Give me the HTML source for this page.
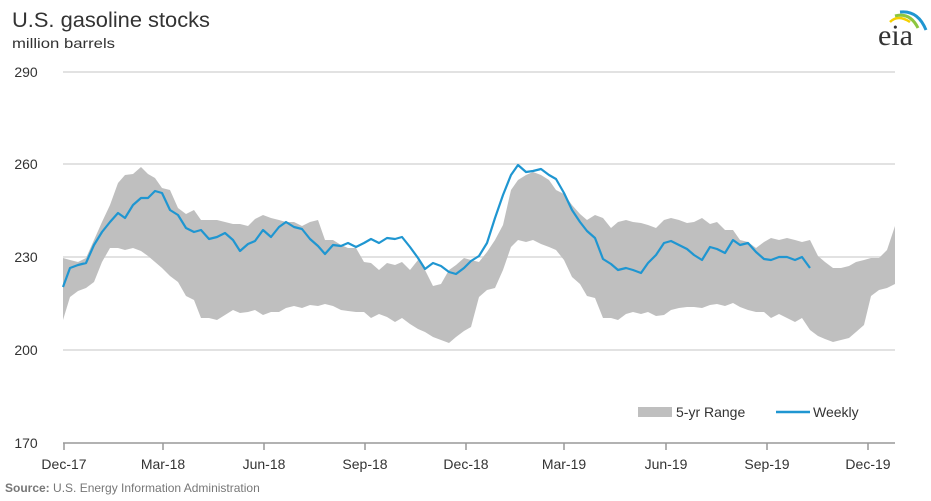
<!DOCTYPE html>
<html><head><meta charset="utf-8"><style>
body{margin:0;background:#fff;}
svg{display:block;font-family:"Liberation Sans",Arial,sans-serif;}
</style></head><body>
<svg width="931" height="501" viewBox="0 0 931 501" xmlns="http://www.w3.org/2000/svg">
<text x="12" y="27" font-size="21" fill="#333" textLength="198" lengthAdjust="spacingAndGlyphs">U.S. gasoline stocks</text>
<text x="12" y="48" font-size="14" fill="#333" textLength="103" lengthAdjust="spacingAndGlyphs">million barrels</text>
<g stroke="#d9d9d9" stroke-width="1.5">
<line x1="63" y1="72" x2="895" y2="72"/><line x1="63" y1="164" x2="895" y2="164"/><line x1="63" y1="257" x2="895" y2="257"/><line x1="63" y1="350" x2="895" y2="350"/>
</g>
<g font-size="14" fill="#333" text-anchor="middle">
<text x="26" y="77">290</text><text x="26" y="169">260</text><text x="26" y="262">230</text><text x="26" y="355">200</text><text x="26" y="448">170</text>
</g>
<polygon fill="#bfbfbf" points="63,258 70,260 78,262 86,258 94,240 102,222 110,205 118,183 125,175 133,174 141,167 148,174 155,178 162,188 170,190 178,208 186,214 194,210 201,220 209,220 217,220 225,222 233,224 240,224 248,226 255,219 263,215 271,218 279,220 286,222 294,222 302,226 310,222 318,220 325,240 333,240 341,245 348,248 356,248 364,262 371,263 379,270 387,263 395,265 402,262 410,270 418,260 425,270 433,286 441,284 449,270 456,265 464,258 471,260 479,262 487,252 495,240 503,225 511,190 518,180 526,175 533,172 541,175 549,180 556,190 564,194 572,205 580,214 587,220 595,215 603,218 611,228 618,222 626,220 633,222 641,223 648,225 656,228 664,220 671,218 679,220 687,223 694,222 702,218 710,224 717,222 725,230 733,230 740,240 748,242 756,248 764,242 771,238 779,240 787,238 795,240 802,242 810,240 818,256 825,262 833,268 841,268 849,266 856,262 864,260 871,258 879,258 887,250 895,226 895,284 887,288 879,290 871,296 864,325 856,332 849,338 841,340 833,342 825,339 818,336 810,330 802,318 795,322 787,318 779,314 771,318 764,312 756,312 748,310 740,307 733,303 725,306 717,304 710,305 702,308 694,307 687,307 679,308 671,310 664,315 656,316 648,312 641,314 633,312 626,314 618,320 611,318 603,318 595,298 587,296 580,284 572,277 564,260 556,250 549,247 541,244 533,240 526,242 518,240 511,247 503,270 495,288 487,290 479,297 471,327 464,331 456,337 449,343 441,340 433,337 425,332 418,329 410,324 402,318 395,322 387,317 379,314 371,318 364,312 356,312 348,311 341,310 333,306 325,304 318,306 310,305 302,308 294,306 286,308 279,312 271,312 263,315 255,310 248,312 240,313 233,310 225,315 217,320 209,318 201,318 194,300 186,296 178,282 170,276 162,268 155,262 148,256 141,251 133,248 125,250 118,248 110,248 102,262 94,282 86,288 78,291 70,297 63,320"/>
<polyline fill="none" stroke="#1f96d1" stroke-width="2.2" stroke-linejoin="round" points="63,287 70,268 78,265 86,263 94,245 102,232 110,222 118,213 125,218 133,205 141,198 148,198 155,191 162,193 170,210 178,215 186,228 194,232 201,230 209,239 217,237 225,233 233,240 240,251 248,244 255,241 263,230 271,237 279,227 286,222 294,227 302,229 310,239 318,246 325,254 333,245 341,246 348,243 356,247 364,243 371,239 379,243 387,238 395,239 402,237 410,247 418,258 425,269 433,263 441,266 449,272 456,274 464,268 471,261 479,256 487,243 495,218 503,195 511,175 518,165 526,172 533,171 541,169 549,175 556,179 564,193 572,210 580,222 587,231 595,238 603,259 611,264 618,270 626,268 633,270 641,273 648,263 656,255 664,243 671,241 679,245 687,249 694,255 702,260 710,247 717,249 725,253 733,240 740,245 748,243 756,252 764,259 771,260 779,257 787,257 795,260 802,257 810,268"/>
<line x1="63" y1="443" x2="895" y2="443" stroke="#999" stroke-width="1.5"/>
<g stroke="#999" stroke-width="1.5">
<line x1="64" y1="443" x2="64" y2="450"/><line x1="163" y1="443" x2="163" y2="450"/><line x1="264" y1="443" x2="264" y2="450"/><line x1="365" y1="443" x2="365" y2="450"/><line x1="466" y1="443" x2="466" y2="450"/><line x1="564" y1="443" x2="564" y2="450"/><line x1="666" y1="443" x2="666" y2="450"/><line x1="767" y1="443" x2="767" y2="450"/><line x1="868" y1="443" x2="868" y2="450"/>
</g>
<g font-size="14" fill="#333" text-anchor="middle">
<text x="64" y="469">Dec-17</text><text x="163" y="469">Mar-18</text><text x="264" y="469">Jun-18</text><text x="365" y="469">Sep-18</text><text x="466" y="469">Dec-18</text><text x="564" y="469">Mar-19</text><text x="666" y="469">Jun-19</text><text x="767" y="469">Sep-19</text><text x="868" y="469">Dec-19</text>
</g>
<rect x="638" y="407" width="34" height="10" fill="#bfbfbf"/>
<text x="676" y="417" font-size="14" fill="#333">5-yr Range</text>
<line x1="776" y1="412" x2="810" y2="412" stroke="#1f96d1" stroke-width="2.5"/>
<text x="813" y="417" font-size="14" fill="#333">Weekly</text>
<text x="5" y="492" font-size="12" fill="#777"><tspan font-weight="bold">Source:</tspan> U.S. Energy Information Administration</text>
<text x="878" y="45" font-size="30" fill="#333" font-family="Liberation Serif,serif">eia</text>
<path d="M900,12 Q918,10 926,30" stroke="#1f96d1" stroke-width="3" fill="none"/>
<path d="M895,16 Q910,12 918,28" stroke="#8dc63f" stroke-width="3" fill="none"/>
<path d="M890,22 Q898,14 910,22" stroke="#f5d000" stroke-width="2.5" fill="none"/>
</svg>
</body></html>
